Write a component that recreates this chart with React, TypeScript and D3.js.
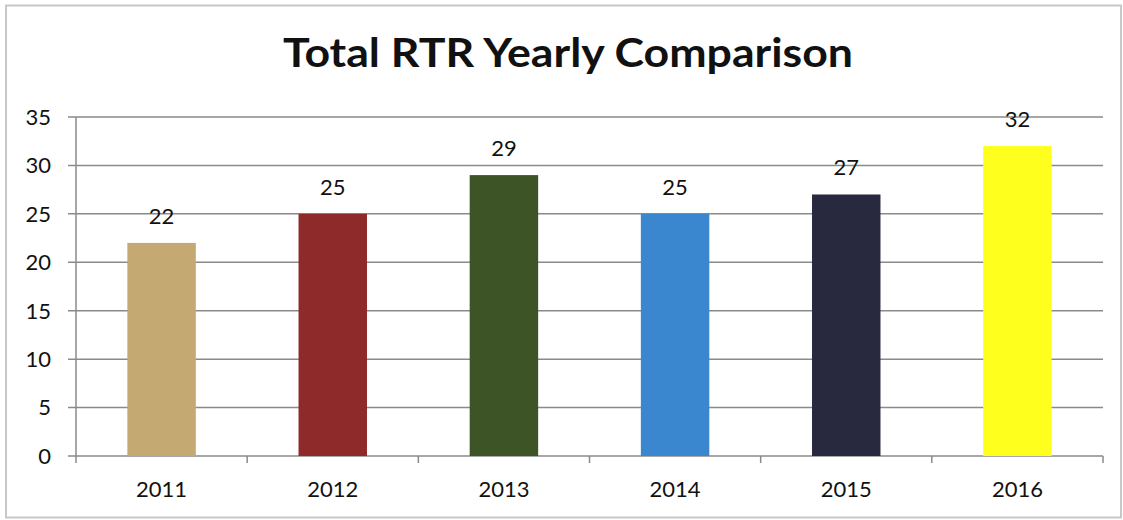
import React from "react";
import * as d3 from "d3";

const years = ["2011", "2012", "2013", "2014", "2015", "2016"];
const values = [22, 25, 29, 25, 27, 32];
const colors = ["#c4aa72", "#8e2a2a", "#3d5427", "#3a86cf", "#28293f", "#ffff1e"];
const yTicks = [0, 5, 10, 15, 20, 25, 30, 35];
const title = "Total RTR Yearly Comparison";

export default function App() {
  const W = 1123, H = 520;
  const left = 76, right = 1103, top = 117, bottom = 456;
  const x = d3.scaleBand<string>().domain(years).range([left, right]).paddingInner(0.6).paddingOuter(0.3);
  const xb = d3.scaleBand<string>().domain(years).range([left, right]);
  const y = d3.scaleLinear().domain([0, 35]).range([bottom, top]);
  const font = "Lato, 'Open Sans', sans-serif";
  const grid = "#8a8a8a";
  return (
    <svg width={W} height={H} style={{ position: "absolute", left: 0, top: 0, background: "#fff" }}>
      <rect x={6} y={5.5} width={1115} height={512} fill="#fff" stroke="#c8c8c8" strokeWidth={2} />
      <text x={568} y={67} textAnchor="middle" fontFamily={font} fontWeight={700} fontSize={40} fill="#111" textLength={570} lengthAdjust="spacingAndGlyphs">{title}</text>
      {yTicks.map((t) => (
        <g key={t}>
          <line x1={68} x2={right} y1={y(t)} y2={y(t)} stroke={grid} strokeWidth={1.5} />
          <text x={51} y={y(t)} dy="0.36em" textAnchor="end" fontFamily={font} fontSize={22} fill="#111">{t}</text>
        </g>
      ))}
      <line x1={left} x2={left} y1={top} y2={bottom} stroke={grid} strokeWidth={1.5} />
      {[...years.map((yr) => xb(yr) as number), right].map((px, i) => (
        <line key={i} x1={px} x2={px} y1={bottom} y2={bottom + 7} stroke={grid} strokeWidth={1.5} />
      ))}
      {years.map((yr, i) => (
        <g key={yr}>
          <rect x={x(yr)} y={y(values[i])} width={x.bandwidth()} height={bottom - y(values[i])} fill={colors[i]} />
          <text x={(x(yr) as number) + x.bandwidth() / 2} y={y(values[i]) - 19} textAnchor="middle" fontFamily={font} fontSize={22} fill="#111">{values[i]}</text>
          <text x={(xb(yr) as number) + xb.bandwidth() / 2} y={497} textAnchor="middle" fontFamily={font} fontSize={22} fill="#111">{yr}</text>
        </g>
      ))}
    </svg>
  );
}
